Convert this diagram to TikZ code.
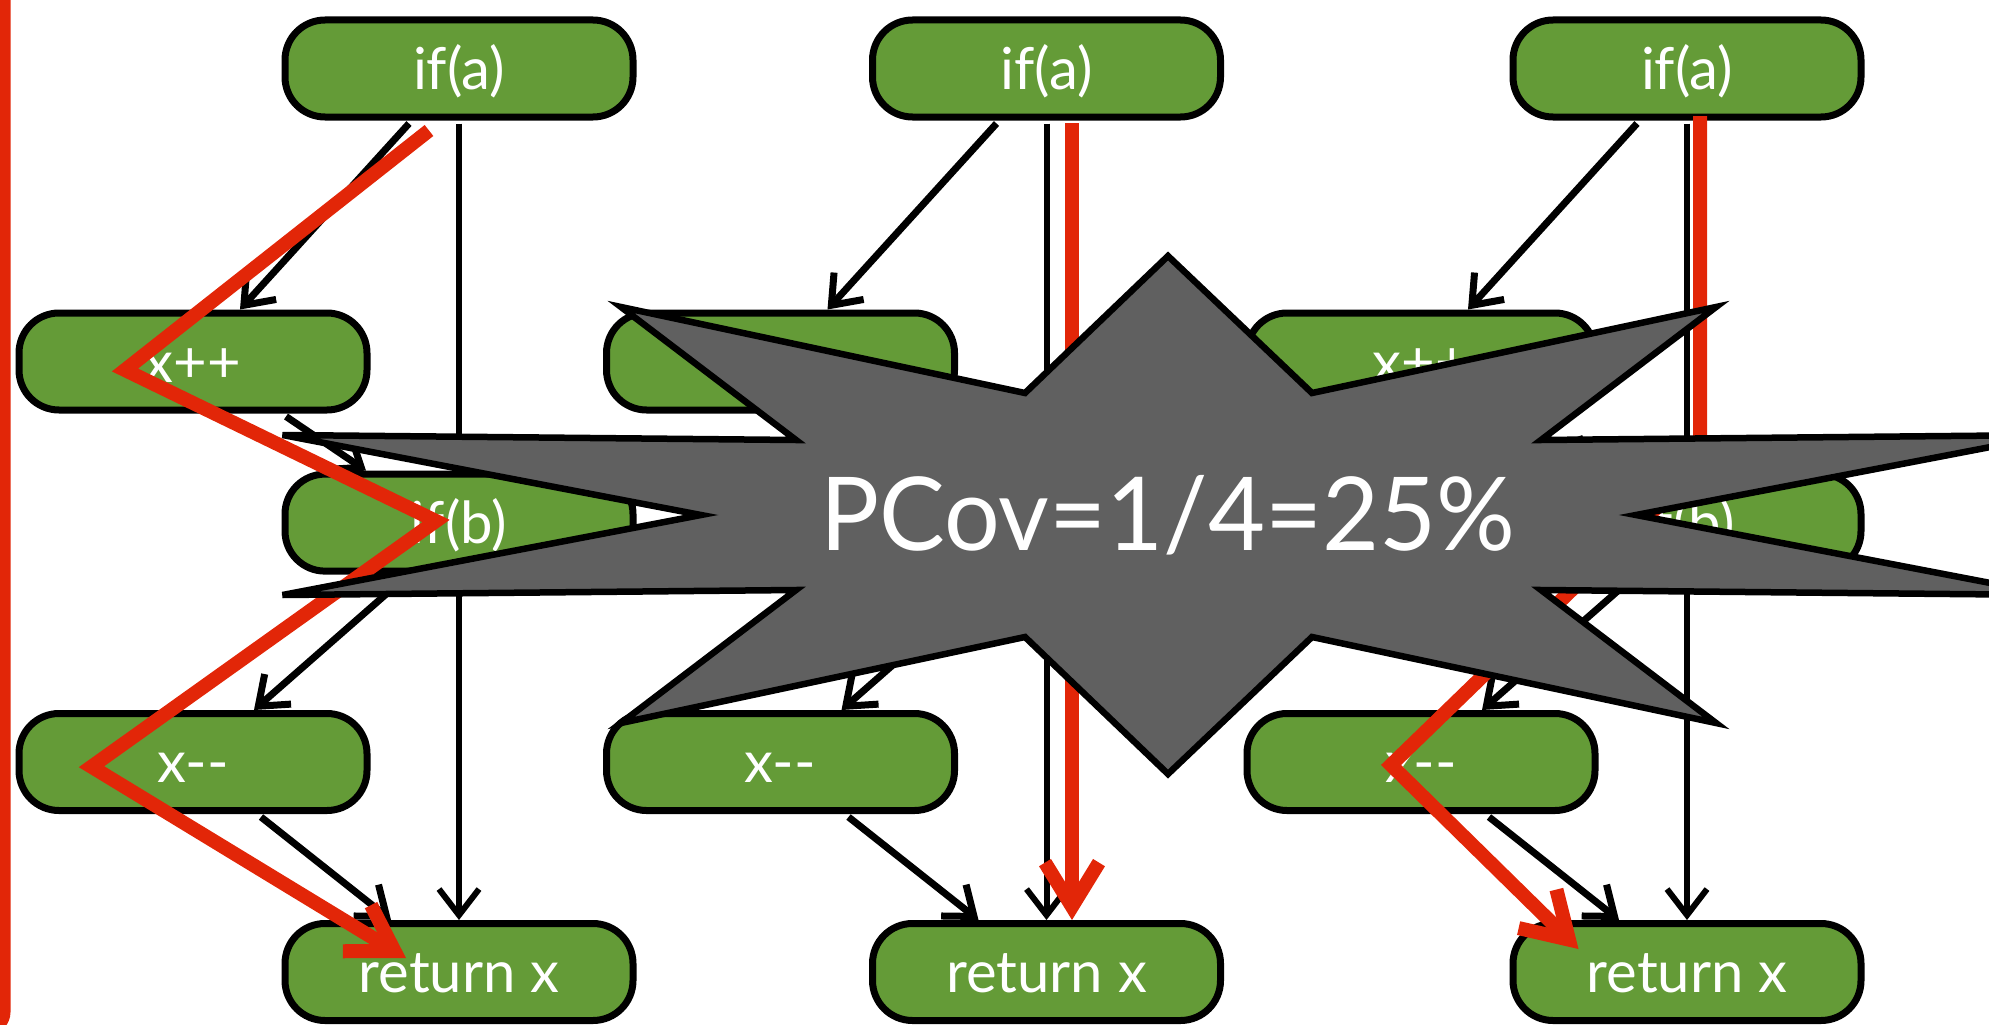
\documentclass[tikz,border=0pt]{standalone}
\usepackage{fontspec}
\newfontfamily\labelfont{Lato}
\usetikzlibrary{arrows.meta,calc}
\definecolor{boxgreen}{RGB}{100,155,55}
\definecolor{pathred}{RGB}{226,38,8}
\definecolor{stargray}{RGB}{96,96,96}
\begin{document}
\begin{tikzpicture}[x=1pt,y=-1pt,
  cfgbox/.style={draw=black, line width=7pt, fill=boxgreen, rounded corners=40pt,
    minimum width=348pt, minimum height=97pt, inner sep=0pt, text=white,
    text height=42pt, text depth=1pt,
    font=\labelfont\fontsize{58}{60}\selectfont},
  flow/.style={draw=black, line width=7pt, -{Straight Barb[length=26pt,width=40pt]}},
  vflow/.style={draw=black, line width=6pt, -{Straight Barb[length=26pt,width=40pt]}},
  redpath/.style={draw=pathred, line width=14pt, line join=miter, -{Straight Barb[length=44pt,width=54pt]}},
  starshape/.style={draw=black, line width=6.5pt, fill=stargray, line join=miter},
  startext/.style={text=white, inner sep=0pt, text height=73pt, text depth=0pt, xscale=0.965,
    font=\labelfont\fontsize{102}{104}\selectfont},
]
\useasboundingbox (0,0) rectangle (1989,1025);
\clip (0,0) rectangle (1989,1025);

% boxes
\foreach \c/\x in {1/459,2/1046.5,3/1687}{
  \node[cfgbox] (ifa\c) at (\x,68.5) {if(a)};
  \node[cfgbox] (xpp\c) at (\x-266,361.5) {x++};
  \node[cfgbox] (ifb\c) at (\x,522.6) {if(b)};
  \node[cfgbox] (xmm\c) at (\x-266,762) {x-{}-};
  \node[cfgbox] (ret\c) at (\x,972) {return x};
}

% control-flow edges
\foreach \c in {1,2,3}{
  \draw[flow] ([xshift=-50pt,yshift=-3pt]ifa\c.south) -- ([xshift=47pt]xpp\c.north);
  \draw[vflow] ([yshift=-3pt]ifa\c.south) -- (ifb\c.north);
  \draw[flow] ([xshift=93pt,yshift=-3pt]xpp\c.south) -- ([xshift=-93pt]ifb\c.north);
  \draw[flow] ([xshift=-54pt,yshift=-3pt]ifb\c.south) -- ([xshift=61pt]xmm\c.north);
  \draw[vflow] ([yshift=-3pt]ifb\c.south) -- (ret\c.north);
  \draw[flow] ([xshift=68pt,yshift=-3pt]xmm\c.south) -- ([xshift=-68pt]ret\c.north);
}

% red paths
\draw[redpath] ($(ifa1.center)+(-30,62)$) -- ($(xpp1.center)+(-68,8.5)$)
  -- ($(ifb1.center)+(-23,-1.6)$) -- ($(xmm1.center)+(-101.5,4.7)$)
  -- ($(ret1.center)+(-53,-14)$);
\draw[redpath] ($(ifa2.center)+(25.5,54.5)$) -- ($(ret2.north)+(25.5,0)$);
\draw[redpath] ($(ifa3.center)+(13,47.5)$) -- ($(ifb3.center)+(13,-57)$)
  -- ($(xmm3.center)+(-30,3)$) -- ($(ret3.center)+(-108.5,-23)$);

% left red frame edge
\draw[pathred, line width=11pt, rounded corners=18pt] (5,-30) -- (5,1030) -- (-60,1030);

% star
\draw[starshape] (1168,256) -- (1312,393) -- (1716,307) -- (1541,440) -- (2053,435)
  -- (1636,515) -- (2053,595) -- (1541,590) -- (1716,723) -- (1312,637)
  -- (1168,774) -- (1025,637) -- (621,723) -- (796,590) -- (282.5,595)
  -- (701,515) -- (282.5,435) -- (796,440) -- (621,307) -- (1025,393) -- cycle;
\node[startext] (pcov) at (1168,514) {PCov=1/4=25\%};
\end{tikzpicture}
\end{document}
